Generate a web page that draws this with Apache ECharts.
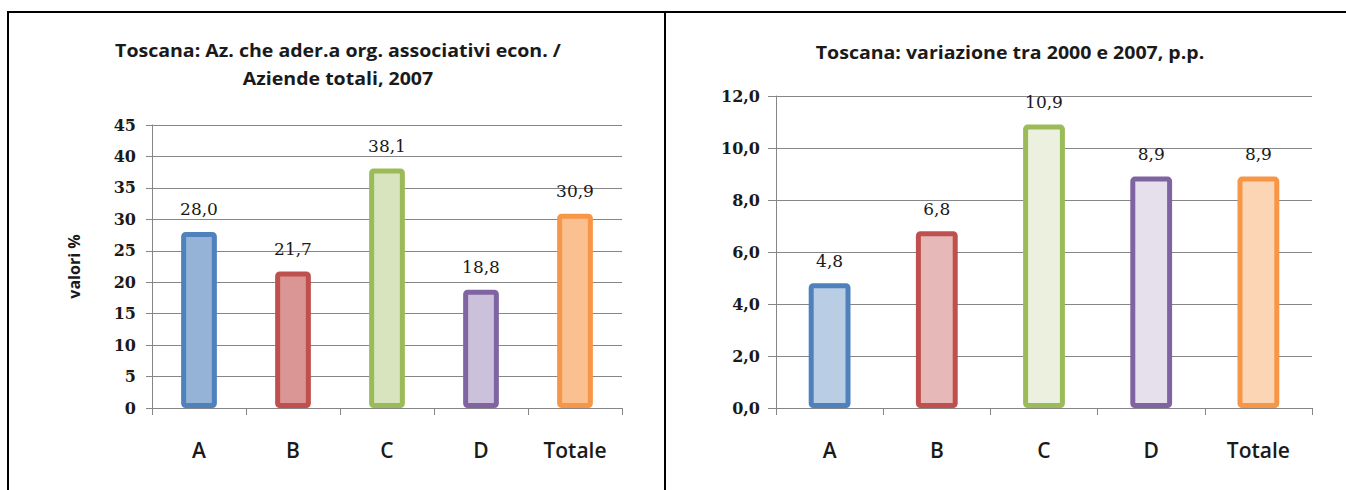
<!DOCTYPE html>
<html>
<head>
<meta charset="utf-8">
<script src="https://cdn.jsdelivr.net/npm/echarts@6/dist/echarts.min.js"></script>
<style>
  html, body { margin: 0; padding: 0; background: #ffffff; }
  #chart { width: 1346px; height: 490px; }
</style>
</head>
<body>
<div id="chart"></div>
<script>
// Categories and values of the two panels
const categories = ['A', 'B', 'C', 'D', 'Totale'];
const shareValues = [28.0, 21.7, 38.1, 18.8, 30.9];   // % of farms, 2007
const changeValues = [4.8, 6.8, 10.9, 8.9, 8.9];     // change 2000-2007, p.p.

// Axis scales
const shareAxis = { min: 0, max: 45, interval: 5 };
const changeAxis = { min: 0, max: 12, interval: 2 };

// Panel titles
const shareTitle = 'Toscana: Az. che ader.a org. associativi econ. /\nAziende totali, 2007';
const changeTitle = 'Toscana: variazione tra 2000 e 2007, p.p.';
const shareAxisName = 'valori %';

// Bar colours: outline and fills per category
const strokeColors = ['#4F81BD', '#C0504D', '#9BBB59', '#8064A2', '#F79646'];
const shareFills = ['#95B3D7', '#D99694', '#D7E4BD', '#CCC1DA', '#FAC090'];
const changeFills = ['#B9CDE5', '#E6B9B8', '#EBF1DE', '#E6E0EC', '#FCD5B5'];

const comma = v => v.toFixed(1).replace('.', ',');
const gridColor = '#868686';
const serif = '"DejaVu Serif", "Liberation Serif", serif';
const sans = '"Open Sans", "Noto Sans", sans-serif';
const titleFont = 'bold 17px "Open Sans", sans-serif';

function barItems(values, fills) {
  return values.map((v, i) => ({
    value: v,
    itemStyle: {
      color: fills[i],
      borderColor: strokeColors[i],
      borderWidth: 5,
      borderRadius: 2,
      borderJoin: 'round'
    }
  }));
}

function categoryAxis(gridIndex) {
  return {
    type: 'category',
    gridIndex: gridIndex,
    data: categories,
    z: 5,
    axisLine: { show: true, lineStyle: { color: gridColor, width: 1 } },
    axisTick: { show: true, alignWithLabel: false, length: 7, lineStyle: { color: gridColor } },
    axisLabel: { color: '#1a1a1a', fontFamily: sans, fontSize: 21, fontWeight: 600, margin: 31 },
    splitLine: { show: false }
  };
}

function valueAxis(gridIndex, scale, fmt, tickLen, extra) {
  return Object.assign({
    type: 'value',
    gridIndex: gridIndex,
    min: scale.min,
    max: scale.max,
    interval: scale.interval,
    axisLine: { show: true, lineStyle: { color: gridColor, width: 1 } },
    axisTick: { show: true, length: tickLen, lineStyle: { color: gridColor } },
    axisLabel: { color: '#1a1a1a', fontFamily: serif, fontSize: 16, fontWeight: 'bold', margin: 16, formatter: fmt },
    splitLine: { show: true, lineStyle: { color: gridColor, width: 1 } }
  }, extra || {});
}

const chart = echarts.init(document.getElementById('chart'), null, { renderer: 'svg' });

chart.setOption({
  animation: false,
  backgroundColor: '#ffffff',
  grid: [
    { left: 152, top: 125, width: 470, height: 283 },
    { left: 776, top: 96, width: 536, height: 312 }
  ],
  xAxis: [categoryAxis(0), categoryAxis(1)],
  yAxis: [
    valueAxis(0, shareAxis, v => String(v), 6, {
      name: shareAxisName,
      nameLocation: 'middle',
      nameRotate: 90,
      nameGap: 70,
      nameTextStyle: { fontFamily: sans, fontSize: 16, fontWeight: 'bold', color: '#1a1a1a' }
    }),
    valueAxis(1, changeAxis, v => comma(v), 8)
  ],
  series: [
    {
      type: 'bar',
      xAxisIndex: 0,
      yAxisIndex: 0,
      barWidth: '38%',
      data: barItems(shareValues, shareFills),
      label: {
        show: true, position: 'top', distance: 14,
        fontFamily: serif, fontSize: 17, color: '#1a1a1a',
        formatter: p => comma(p.value)
      }
    },
    {
      type: 'bar',
      xAxisIndex: 1,
      yAxisIndex: 1,
      barWidth: '39%',
      data: barItems(changeValues, changeFills),
      label: {
        show: true, position: 'top', distance: 14,
        fontFamily: serif, fontSize: 17, color: '#1a1a1a',
        formatter: p => comma(p.value)
      }
    }
  ],
  graphic: [
    // panel frame
    { type: 'line', shape: { x1: 7, y1: 12, x2: 1346, y2: 12 }, style: { stroke: '#000', lineWidth: 2 } },
    { type: 'line', shape: { x1: 8, y1: 11, x2: 8, y2: 490 }, style: { stroke: '#000', lineWidth: 2 } },
    { type: 'line', shape: { x1: 665, y1: 11, x2: 665, y2: 490 }, style: { stroke: '#000', lineWidth: 2 } },
    // titles (slightly widened lettering)
    {
      type: 'text', x: 338, y: 64, scaleX: 1.15,
      style: {
        text: shareTitle, fill: '#1a1a1a', align: 'center', verticalAlign: 'middle',
        font: titleFont, lineHeight: 28
      }
    },
    {
      type: 'text', x: 1010, y: 52, scaleX: 1.15,
      style: {
        text: changeTitle, fill: '#1a1a1a', align: 'center', verticalAlign: 'middle',
        font: titleFont
      }
    }
  ]
});
</script>
</body>
</html>
